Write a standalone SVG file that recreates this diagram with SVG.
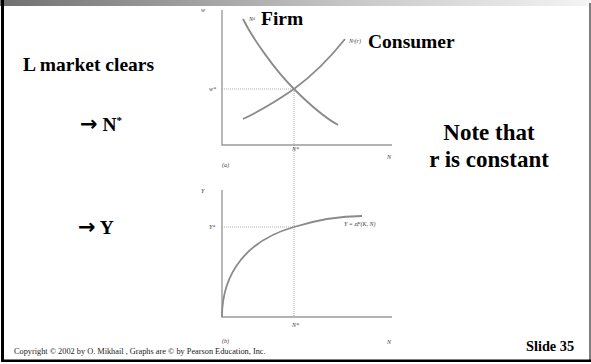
<svg xmlns="http://www.w3.org/2000/svg" width="591" height="364" viewBox="0 0 591 364">
<defs>
<linearGradient id="bar" x1="0" y1="0" x2="1" y2="0">
<stop offset="0" stop-color="#707070"/>
<stop offset="0.6" stop-color="#c8c8c8"/>
<stop offset="1" stop-color="#f4f4f4"/>
</linearGradient>
</defs>
<style>
.b{font-family:"Liberation Serif",serif;font-weight:bold;fill:#000}
.t{font-family:"Liberation Serif",serif;font-style:italic;font-size:6px;fill:#444}
.ax{stroke:#9a9a9a;stroke-width:1.4;fill:none}
.cv{stroke:#8a8a8a;stroke-width:1.8;fill:none}
.dt{stroke:#999;stroke-width:0.8;stroke-dasharray:1 1;fill:none}
</style>
<rect width="591" height="364" fill="#fff"/>
<rect x="0" y="0" width="591" height="6" fill="url(#bar)"/>
<rect x="1" y="0" width="3" height="362" fill="#000"/>
<rect x="1" y="359.5" width="590" height="2.5" fill="#000"/>
<rect x="589.5" y="3" width="1" height="358" fill="#000"/>

<g id="panel-a">
<path class="ax" d="M222,10 V145 H392"/>
<path class="dt" d="M222,89 H294 M294,89 V317"/>
<text class="t" x="201" y="12">w</text>
<text class="t" x="209" y="91">w*</text>
<text class="t" x="292" y="151">N*</text>
<text class="t" x="387" y="159">N</text>
<text class="t" x="222" y="167">(a)</text>
</g>
<g id="firm">
<path class="cv" d="M243,19 C253,39 275,70 294,89 C309,104 322,116 338,125"/>
<text class="t" x="249" y="21">N<tspan font-size="4" dy="-1.5">d</tspan></text>
<text class="b" x="261" y="25" font-size="19.5">Firm</text>
</g>
<g id="consumer">
<path class="cv" d="M243,119 C260,111 278,100 294,89 C313,75 330,58 345,39"/>
<text class="t" x="349" y="43">N<tspan font-size="4" dy="-1.5">s</tspan><tspan dy="1.5">(r)</tspan></text>
<text class="b" x="368" y="48" font-size="19.5">Consumer</text>
</g>

<g id="panel-b">
<path class="ax" d="M222,190 V317 H392"/>
<path class="dt" d="M222,227 H294"/>
<path class="cv" d="M222,317 C222,272 248,240 294,227 C320,219 340,216 362,216"/>
<text class="t" x="201" y="193">Y</text>
<text class="t" x="209" y="229">Y*</text>
<text class="t" x="344" y="226">Y = zF(K, N)</text>
<text class="t" x="292" y="327">N*</text>
<text class="t" x="387" y="344">N</text>
<text class="t" x="222" y="343">(b)</text>
</g>

<g id="left-text">
<text class="b" x="23" y="71" font-size="19.5">L market clears</text>
<text class="b" x="80" y="131" font-size="19.5"><tspan font-family="'DejaVu Sans',sans-serif" font-size="21">→</tspan> N<tspan font-size="11" dy="-7">*</tspan></text>
<text class="b" x="78" y="234" font-size="19.5"><tspan font-family="'DejaVu Sans',sans-serif" font-size="21">→</tspan> Y</text>
</g>
<g id="note">
<text class="b" x="489" y="140" font-size="23" text-anchor="middle">Note that</text>
<text class="b" x="489" y="167" font-size="23" text-anchor="middle">r is constant</text>
</g>
<text x="14" y="354" font-family="'Liberation Serif',serif" font-size="8.3" fill="#222">Copyright © 2002 by O. Mikhail , Graphs are © by Pearson Education, Inc.</text>
<text class="b" x="526" y="351" font-size="14.3">Slide 35</text>
</svg>
